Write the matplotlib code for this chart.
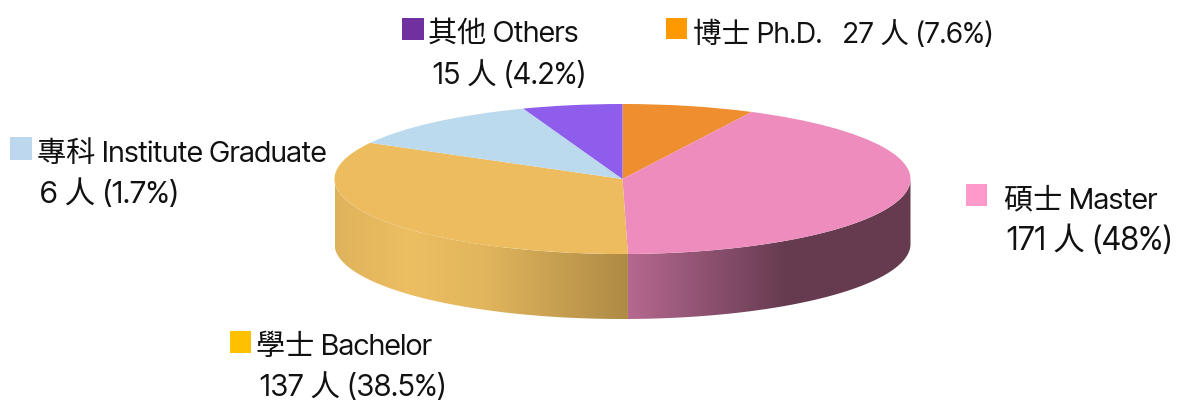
import matplotlib
matplotlib.use("Agg")
import matplotlib.pyplot as plt
from matplotlib.colors import LinearSegmentedColormap
from matplotlib.patches import Polygon, Rectangle
import numpy as np

W, H = 1180, 400

# order is clockwise from 12 o'clock, same as the slices
names = ["博士 Ph.D.", "碩士 Master", "學士 Bachelor", "專科 Institute Graduate", "其他 Others"]
people = [27, 171, 137, 6, 15]
percent = ["7.6%", "48%", "38.5%", "1.7%", "4.2%"]
# share of the circle each slice really takes in the picture (not the printed %)
drawn_share = [7.4, 42.3, 33.3, 11.4, 5.6]

top_colors = ["#EE8E2E", "#EE8DBD", "#ECBC5E", "#BBDAEE", "#8E5DEB"]
key_colors = ["#FF9900", "#FF99CC", "#FFC000", "#BDD7EE", "#7030A0"]

fonts = ["Inter Tight", "Noto Sans CJK TC", "DejaVu Sans"]
plt.rcParams["font.family"] = fonts

fig = plt.figure(figsize=(W / 100, H / 100), dpi=100, facecolor="white")

# pie box in pixels
left, right, top, bottom = 334.5, 910.5, 104, 319
ry = 75
depth = (bottom - top - 2 * ry) / ry
ax = fig.add_axes([left / W, 1 - bottom / H, (right - left) / W, (bottom - top) / H])

ax.pie(drawn_share, colors=top_colors, startangle=90, counterclock=False, radius=1,
       wedgeprops={"linewidth": 0, "zorder": 3})

# side wall, only the front half shows
wall_cmaps = {
    1: [(0.0, "#B5688F"), (0.56, "#663B50"), (1.0, "#663B50")],
    2: [(0.0, "#DFB35C"), (0.25, "#EDBE62"), (0.5, "#E2B65D"), (1.0, "#AE8A45")],
}
wall_range = {1: (0.02, 1.0), 2: (-1.0, 0.02)}
edges = np.cumsum([0] + drawn_share) / sum(drawn_share) * 360
for i, colors in wall_cmaps.items():
    a0 = max(edges[i], 90)
    a1 = min(edges[i + 1], 270)
    t = np.radians(np.linspace(a0, a1, 200))
    xs, ys = np.sin(t), np.cos(t)
    pts = np.r_[np.c_[xs, ys], np.c_[xs[::-1], ys[::-1] - depth]]
    clip = Polygon(pts, closed=True, transform=ax.transData)
    x0, x1 = wall_range[i]
    cmap = LinearSegmentedColormap.from_list("wall%d" % i, colors)
    im = ax.imshow(np.linspace(0, 1, 256)[None, :], cmap=cmap, aspect="auto", zorder=1,
                   extent=[x0, x1, -1 - depth, 1], interpolation="bilinear")
    im.set_clip_path(clip)

ax.set_aspect("auto")
ax.set_xlim(-1, 1)
ax.set_ylim(-1 - depth, 1)
ax.axis("off")


def label(x, y, s, size=21):
    fig.text(x / W, 1 - y / H, s, fontsize=size, ha="left", va="baseline", color="#111111",
             fontweight=300)


def key(x, y, w, h, color):
    fig.add_artist(Rectangle((x / W, 1 - (y + h) / H), w / W, h / H, transform=fig.transFigure,
                             facecolor=color, edgecolor="none"))


key(666, 18, 21, 21, key_colors[0])
label(693, 43, names[0] + "   %d 人 (%s)" % (people[0], percent[0]), size=20.6)

key(966, 184, 21, 22, key_colors[1])
label(1004, 208, names[1])
label(1007, 250, "%d 人 (%s)" % (people[1], percent[1]), size=22.8)

key(230, 331, 21, 22, key_colors[2])
label(256, 355, names[2])
label(260, 396, "%d 人 (%s)" % (people[2], percent[2]), size=21.4)

key(10, 137, 22, 23, key_colors[3])
label(37, 162, names[3])
label(40, 203, "%d 人 (%s)" % (people[3], percent[3]), size=22.1)

key(402, 18, 22, 22, key_colors[4])
label(428, 42, names[4])
label(433, 84, "%d 人 (%s)" % (people[4], percent[4]), size=21.4)

fig.savefig("out.png", dpi=100, facecolor="white")
